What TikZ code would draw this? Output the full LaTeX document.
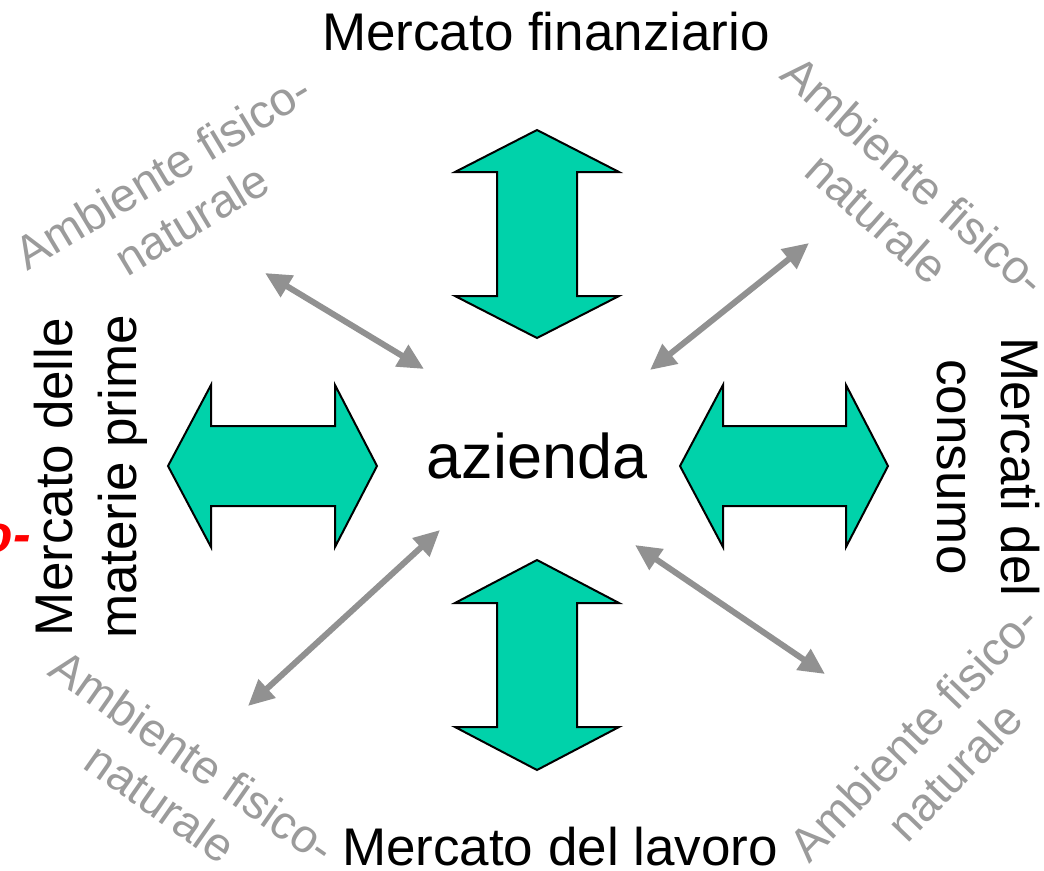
\documentclass[tikz,border=0pt]{standalone}
\usepackage{fontspec}
\setmainfont{Liberation Sans}
\usetikzlibrary{arrows.meta}
\definecolor{tealfill}{RGB}{0,210,170}
\definecolor{arrgray}{RGB}{145,145,145}
\definecolor{txtgray}{RGB}{155,155,155}
\begin{document}
\begin{tikzpicture}[x=1pt,y=-1pt,
  bigarrow/.style={fill=tealfill,draw=black,line width=2pt,line join=miter},
  grayarrow/.style={draw=arrgray,line width=6pt,{Triangle[length=26pt,width=24pt]}-{Triangle[length=26pt,width=24pt]}},
  lbl/.style={font=\fontsize{53}{64}\selectfont,inner sep=0pt,align=center},
  env/.style={text=txtgray,font=\fontsize{47}{56}\selectfont,inner sep=0pt,align=center}]
\useasboundingbox (0,0) rectangle (1044,870);

% big teal double arrows
\draw[bigarrow] (537,130) -- (619,172) -- (577,172) -- (577,296) -- (619,296) -- (537,338)
  -- (455,296) -- (497,296) -- (497,172) -- (455,172) -- cycle;
\draw[bigarrow] (537,560) -- (619,603) -- (577,603) -- (577,727) -- (619,727) -- (537,770)
  -- (455,727) -- (497,727) -- (497,603) -- (455,603) -- cycle;
\draw[bigarrow] (168,466) -- (211,385) -- (211,426) -- (335,426) -- (335,385) -- (377,466)
  -- (335,547) -- (335,506) -- (211,506) -- (211,547) -- cycle;
\draw[bigarrow] (680,466) -- (723,385) -- (723,426) -- (846,426) -- (846,385) -- (888,466)
  -- (846,547) -- (846,506) -- (723,506) -- (723,547) -- cycle;

% texts
\node[lbl,anchor=base] (fin) at (546,50) {Mercato finanziario};
\node[lbl,anchor=base] (lav) at (560,865) {Mercato del lavoro};
\node[lbl,font=\fontsize{63}{76}\selectfont,anchor=base] (az) at (537,478) {azienda};
\node[lbl,rotate=90] (mat) at (91,477) {Mercato delle\\materie prime};
\node[lbl,rotate=-90] (cons) at (988,467) {Mercati del\\consumo};

\node[env,rotate=31] (e1) at (177,195) {Ambiente fisico-\\naturale};
\node[env,rotate=-41.5] (e2) at (896,197) {Ambiente fisico-\\naturale};
\node[env,rotate=-35] (e3) at (177,780) {Ambiente fisico-\\naturale};
\node[env,rotate=46] (e4) at (934,752) {Ambiente fisico-\\naturale};

\node[text=red,font=\fontsize{53}{64}\selectfont\bfseries\itshape,inner sep=0pt,anchor=base east] (red) at (31,552) {o-};

% gray double arrows
\coordinate (a1) at (265,273); \coordinate (b1) at (424,369);
\coordinate (a2) at (809,243); \coordinate (b2) at (650,370);
\coordinate (a3) at (440,530); \coordinate (b3) at (248,706);
\coordinate (a4) at (635,545); \coordinate (b4) at (825,674);
\draw[grayarrow] (a1) -- (b1);
\draw[grayarrow] (a2) -- (b2);
\draw[grayarrow] (a3) -- (b3);
\draw[grayarrow] (a4) -- (b4);
\end{tikzpicture}
\end{document}
